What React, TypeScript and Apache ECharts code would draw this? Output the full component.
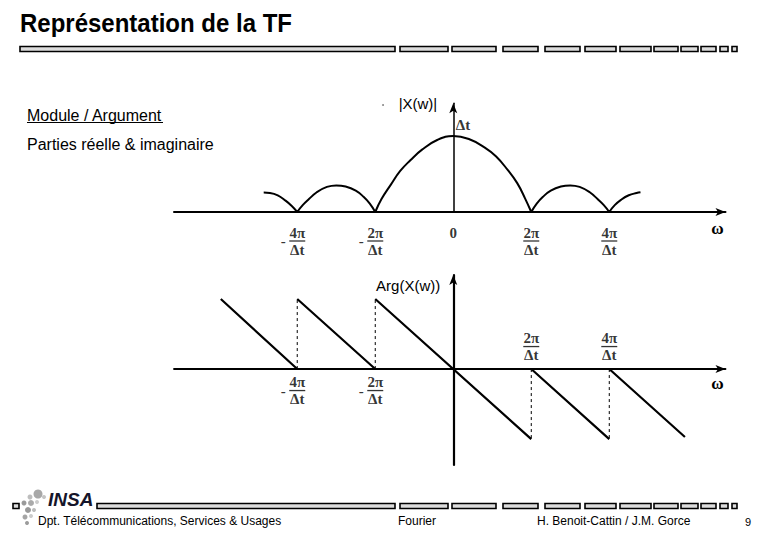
import React, { useEffect, useRef } from "react";
import * as echarts from "echarts";

// ---------- texts ----------
const TITLE = "Représentation de la TF";
const MENU_ITEMS = ["Module / Argument", "Parties réelle & imaginaire"];
const FOOTER_LEFT = "Dpt. Télécommunications, Services & Usages";
const FOOTER_MID = "Fourier";
const FOOTER_RIGHT = "H. Benoit-Cattin / J.M. Gorce";
const PAGE_NUMBER = "9";
const LOGO_TEXT = "INSA";
const OMEGA = "ω";
const MAG_NAME = "|X(w)|";
const PHASE_NAME = "Arg(X(w))";
const PEAK_LABEL = "Δt";
const DENOM = "Δt";

// ---------- data (x in units of 2π/Δt) ----------
// top chart tick labels
const topTickValues = [-2, -1, 0, 1, 2];
const topTickNumerators = ["4π", "2π", "0", "2π", "4π"];
const topTickSigns = ["-", "-", "", "", ""];
// bottom chart tick labels
const bottomTickValues = [-2, -1, 1, 2];
const bottomTickNumerators = ["4π", "2π", "2π", "4π"];
const bottomTickSigns = ["-", "-", "", ""];
const bottomTickAbove = [false, false, true, true];

// |X(w)| (units of Δt), one array per lobe
const lobeFarLeft = [[-2.43, 0.255], [-2.35, 0.25], [-2.25, 0.22], [-2.15, 0.15], [-2.07, 0.08], [-2, 0]];
const lobeLeft = [[-2, 0], [-1.93, 0.09], [-1.85, 0.17], [-1.75, 0.26], [-1.62, 0.33], [-1.5, 0.35], [-1.38, 0.335], [-1.25, 0.28], [-1.15, 0.2], [-1.07, 0.11], [-1, 0]];
const lobeMain = [[-1, 0], [-0.92, 0.17], [-0.8, 0.36], [-0.68, 0.54], [-0.55, 0.68], [-0.4, 0.82], [-0.2, 0.95], [0, 1], [0.2, 0.96], [0.4, 0.85], [0.55, 0.73], [0.7, 0.55], [0.82, 0.38], [0.92, 0.18], [1, 0]];
const lobeRight = [[1, 0], [1.07, 0.11], [1.15, 0.2], [1.25, 0.28], [1.38, 0.335], [1.5, 0.35], [1.62, 0.33], [1.75, 0.26], [1.85, 0.17], [1.93, 0.09], [2, 0]];
const lobeFarRight = [[2, 0], [2.07, 0.09], [2.15, 0.16], [2.25, 0.22], [2.35, 0.25], [2.4, 0.26]];

// Arg(X(w)) (units of π)
const phaseSeg1 = [[-2.98, 1], [-2, 0]];
const phaseSeg2 = [[-2, 1], [-1, 0]];
const phaseSeg3 = [[-1, 1], [1, -1]];
const phaseSeg4 = [[1, 0], [2, -1]];
const phaseSeg5 = [[2, 0], [2.97, -0.97]];
const jump1 = [[-2, 0], [-2, 1]];
const jump2 = [[-1, 0], [-1, 1]];
const jump3 = [[1, 0], [1, -1]];
const jump4 = [[2, 0], [2, -1]];

// ---------- decoration ----------
const barSegments = [[400, 448], [452, 496], [503, 538], [545, 580], [585, 616], [620, 651], [654, 678], [681, 698], [701, 716], [720, 728], [732, 737]];

const SANS = '"Liberation Sans", Arial, sans-serif';
const SERIF = '"Liberation Serif", "DejaVu Serif", serif';

function withGaps(segs: number[][][]) {
  const out: any[] = [];
  segs.forEach((s, i) => {
    if (i > 0) out.push([s[0][0], "-"]);
    s.forEach((p) => out.push(p));
  });
  return out;
}

const fracRich = {
  n: { fontFamily: SERIF, fontWeight: "bold", fontSize: 15, lineHeight: 14, color: "#000" },
  m: { fontFamily: SERIF, fontWeight: "bold", fontSize: 15, lineHeight: 3, width: 12, color: "#000" },
  bar: { width: 16, height: 1.3, lineHeight: 3, fontSize: 1, backgroundColor: "#000" },
  s: { width: 12, lineHeight: 3, fontSize: 1 },
};

function fracText(sign: string, num: string) {
  if (num === "0") return "{n|0}";
  return `{n|${num}}\n{m|${sign || " "}}{bar| }{s| }\n{n|${DENOM}}`;
}

function makeBar(x0: number, x1: number, y: number) {
  return {
    type: "rect",
    shape: { x: x0, y, width: x1 - x0, height: 5 },
    style: { fill: "#dcdcdc", stroke: "#000", lineWidth: 1.6 },
  };
}

export default function App() {
  const ref = useRef<HTMLDivElement>(null);

  useEffect(() => {
    if (!ref.current) return;
    const chart = echarts.init(ref.current, undefined, { renderer: "svg" });

    const topLabels = topTickValues.map((v, i) => ({
      value: [v, 0],
      label: {
        formatter: () => fracText(topTickSigns[i], topTickNumerators[i]),
        position: "bottom",
        distance: 13,
      },
    }));
    const bottomLabels = bottomTickValues.map((v, i) => ({
      value: [v, 0],
      label: {
        formatter: () => fracText(bottomTickSigns[i], bottomTickNumerators[i]),
        position: bottomTickAbove[i] ? "top" : "bottom",
        distance: bottomTickAbove[i] ? 6.5 : 5.5,
      },
    }));

    const axisBase = {
      type: "value",
      splitLine: { show: false },
      axisTick: { show: false },
      axisLabel: { show: false },
    };

    const logoDots = [
      [38, 494, 4.5, "#a8a8a8"], [30, 497, 2.5, "#bdbdbd"], [44, 497, 2, "#c4c4c4"],
      [24, 503, 2.5, "#9a9a9a"], [31, 503, 3, "#aaaaaa"], [37, 502, 2, "#cccccc"],
      [28, 510, 3, "#999999"], [34, 510, 2, "#bbbbbb"], [25, 517, 2.5, "#a5a5a5"],
      [31, 516, 2, "#cccccc"], [27, 523, 2, "#9c9c9c"],
    ];

    const graphic: any[] = [
      {
        type: "text",
        x: 20,
        y: 23,
        scaleY: 1.1,
        style: { text: TITLE, x: 0, y: 0, font: `bold 24px ${SANS}`, fill: "#000", verticalAlign: "middle" },
      },
      makeBar(20, 395, 46.5),
      ...barSegments.map(([a, b]) => makeBar(a, b, 46.5)),
      {
        type: "text",
        style: { text: MENU_ITEMS[0], x: 27, y: 115, font: `16px ${SANS}`, fill: "#000", verticalAlign: "middle" },
      },
      { type: "line", shape: { x1: 27, y1: 122.5, x2: 163, y2: 122.5 }, style: { stroke: "#000", lineWidth: 1 } },
      {
        type: "text",
        style: { text: MENU_ITEMS[1], x: 27, y: 144, font: `16px ${SANS}`, fill: "#000", verticalAlign: "middle" },
      },
      { type: "circle", shape: { cx: 383, cy: 105, r: 0.9 }, style: { fill: "#777" } },
      // footer
      makeBar(13, 19, 503.5),
      makeBar(97, 395, 503.5),
      ...barSegments.map(([a, b]) => makeBar(a, b, 503.5)),
      ...logoDots.map(([cx, cy, r, c]) => ({
        type: "circle",
        shape: { cx, cy, r },
        style: { fill: c as string },
      })),
      {
        type: "text",
        style: { text: LOGO_TEXT, x: 48, y: 499, font: `italic bold 19px ${SANS}`, fill: "#15152a", verticalAlign: "middle" },
      },
      {
        type: "text",
        style: { text: FOOTER_LEFT, x: 38, y: 521, font: `12px ${SANS}`, fill: "#000", verticalAlign: "middle" },
      },
      {
        type: "text",
        style: { text: FOOTER_MID, x: 398, y: 521, font: `12px ${SANS}`, fill: "#000", verticalAlign: "middle" },
      },
      {
        type: "text",
        style: { text: FOOTER_RIGHT, x: 537, y: 521, font: `12px ${SANS}`, fill: "#000", verticalAlign: "middle" },
      },
      {
        type: "text",
        style: { text: PAGE_NUMBER, x: 745, y: 522, font: `11px ${SANS}`, fill: "#000", verticalAlign: "middle" },
      },
    ];

    chart.setOption({
      animation: false,
      backgroundColor: "#fff",
      grid: [
        { left: 174, top: 103.3, width: 551.5, height: 108.7, outerBoundsMode: "none" },
        { left: 174, top: 275, width: 551.5, height: 190, outerBoundsMode: "none" },
      ],
      xAxis: [
        {
          ...axisBase,
          gridIndex: 0,
          min: -3.58,
          max: 3.49,
          name: OMEGA,
          nameLocation: "end",
          nameGap: -8,
          nameTextStyle: { fontFamily: SERIF, fontWeight: "bold", fontSize: 17, color: "#000", align: "center", verticalAlign: "top", padding: [8, 0, 0, 0] },
          axisLine: { onZero: true, symbol: ["none", "arrow"], symbolSize: [6, 10], lineStyle: { color: "#000", width: 2 } },
        },
        {
          ...axisBase,
          gridIndex: 1,
          min: -3.58,
          max: 3.49,
          name: OMEGA,
          nameLocation: "end",
          nameGap: -8,
          nameTextStyle: { fontFamily: SERIF, fontWeight: "bold", fontSize: 17, color: "#000", align: "center", verticalAlign: "top", padding: [6, 0, 0, 0] },
          axisLine: { onZero: true, symbol: ["none", "arrow"], symbolSize: [6, 10], lineStyle: { color: "#000", width: 1.8 } },
        },
      ],
      yAxis: [
        {
          ...axisBase,
          gridIndex: 0,
          min: 0,
          max: 1.43,
          name: MAG_NAME,
          nameLocation: "end",
          nameGap: 7,
          nameTextStyle: { fontFamily: SANS, fontSize: 15, color: "#000", align: "right", verticalAlign: "top", padding: [0, 16, 0, 0] },
          axisLine: { onZero: true, symbol: ["none", "arrow"], symbolSize: [6, 10], lineStyle: { color: "#000", width: 1.5 } },
        },
        {
          ...axisBase,
          gridIndex: 1,
          min: -1.37,
          max: 1.343,
          name: PHASE_NAME,
          nameLocation: "end",
          nameGap: -3,
          nameTextStyle: { fontFamily: SANS, fontSize: 15, color: "#000", align: "right", verticalAlign: "top", padding: [0, 13, 0, 0] },
          axisLine: { onZero: true, symbol: ["none", "arrow"], symbolSize: [6, 10], lineStyle: { color: "#000", width: 2.2 } },
        },
      ],
      series: [
        {
          name: "module",
          type: "line",
          xAxisIndex: 0,
          yAxisIndex: 0,
          smooth: 0.45,
          symbol: "none",
          connectNulls: false,
          clip: false,
          lineStyle: { color: "#000", width: 2 },
          data: withGaps([lobeFarLeft, lobeLeft, lobeMain, lobeRight, lobeFarRight]),
        },
        {
          name: "argument",
          type: "line",
          xAxisIndex: 1,
          yAxisIndex: 1,
          symbol: "none",
          connectNulls: false,
          clip: false,
          lineStyle: { color: "#000", width: 2.2 },
          data: withGaps([phaseSeg1, phaseSeg2, phaseSeg3, phaseSeg4, phaseSeg5]),
        },
        {
          name: "jumps",
          type: "line",
          xAxisIndex: 1,
          yAxisIndex: 1,
          symbol: "none",
          connectNulls: false,
          clip: false,
          lineStyle: { color: "#000", width: 1, type: [3, 3] },
          data: withGaps([jump1, jump2, jump3, jump4]),
        },
        {
          name: "topTicks",
          type: "scatter",
          xAxisIndex: 0,
          yAxisIndex: 0,
          symbolSize: 1,
          clip: false,
          silent: true,
          itemStyle: { color: "rgba(0,0,0,0)" },
          label: { show: true, color: "#000", rich: fracRich },
          data: [
            ...topLabels,
            {
              value: [0, 1],
              label: { formatter: () => `{n|${PEAK_LABEL}}`, position: "right", distance: 2, offset: [0, -11] },
            },
          ],
        },
        {
          name: "bottomTicks",
          type: "scatter",
          xAxisIndex: 1,
          yAxisIndex: 1,
          symbolSize: 1,
          clip: false,
          silent: true,
          itemStyle: { color: "rgba(0,0,0,0)" },
          label: { show: true, color: "#000", rich: fracRich },
          data: bottomLabels,
        },
      ],
      graphic,
    });

    return () => chart.dispose();
  }, []);

  return (
    <div
      ref={ref}
      style={{ position: "fixed", left: 0, top: 0, width: 780, height: 540, background: "#fff" }}
    />
  );
}
